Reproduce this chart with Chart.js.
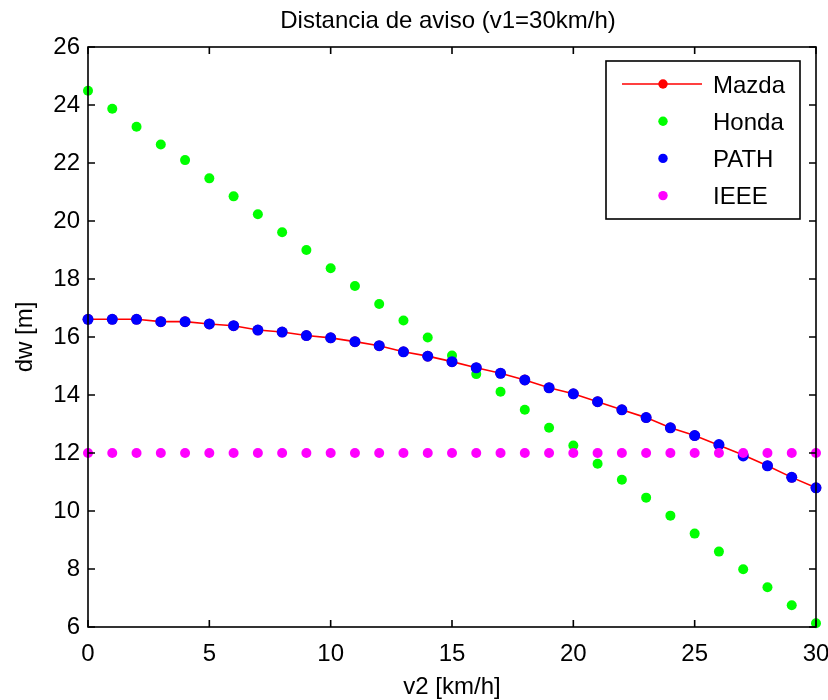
<!DOCTYPE html>
<html>
<head>
<meta charset="utf-8">
<script src="https://cdn.jsdelivr.net/npm/chart.js@4"></script>
<style>
  html, body { margin: 0; padding: 0; background: #fff; }
  #wrap { width: 828px; height: 700px; }
</style>
</head>
<body>
<div id="wrap"><canvas id="chart-aviso" width="828" height="700"></canvas></div>
<script>
// v2 [km/h]
const v2 = [0,1,2,3,4,5,6,7,8,9,10,11,12,13,14,15,16,17,18,19,20,21,22,23,24,25,26,27,28,29,30]

// dw [m]
const mazda = [16.61,16.61,16.61,16.53,16.53,16.45,16.39,16.24,16.17,16.05,15.97,15.84,15.70,15.49,15.34,15.15,14.94,14.75,14.52,14.25,14.04,13.77,13.49,13.22,12.87,12.60,12.27,11.93,11.56,11.16,10.80]
const honda = [24.49,23.87,23.25,22.64,22.10,21.47,20.85,20.23,19.61,19.00,18.37,17.76,17.14,16.57,15.98,15.36,14.72,14.11,13.49,12.87,12.26,11.63,11.08,10.46,9.84,9.22,8.60,7.99,7.37,6.75,6.13]
const path = [16.61,16.61,16.61,16.53,16.53,16.45,16.39,16.24,16.17,16.05,15.97,15.84,15.70,15.49,15.34,15.15,14.94,14.75,14.52,14.25,14.04,13.77,13.49,13.22,12.87,12.60,12.29,11.90,11.56,11.16,10.80]
const ieee = [12,12,12,12,12,12,12,12,12,12,12,12,12,12,12,12,12,12,12,12,12,12,12,12,12,12,12,12,12,12,12]

const xTicks = [0,5,10,15,20,25,30]
const yTicks = [6,8,10,12,14,16,18,20,22,24,26]

const FONT = "'Liberation Sans', Arial, sans-serif"
const pts = arr => arr.map((y, i) => ({ x: v2[i], y }))

// box, inward ticks, title and legend in MATLAB style
const matlabFrame = {
  id: "matlabFrame",
  afterDraw(chart) {
    const { ctx, chartArea: a, scales } = chart
    const xs = scales.x, ys = scales.y
    const L = 7
    ctx.save()
    ctx.strokeStyle = "#000"
    ctx.lineWidth = 1.6
    ctx.strokeRect(a.left, a.top, a.right - a.left, a.bottom - a.top)
    ctx.beginPath()
    xTicks.forEach(t => {
      const px = xs.getPixelForValue(t)
      ctx.moveTo(px, a.bottom); ctx.lineTo(px, a.bottom - L)
      ctx.moveTo(px, a.top); ctx.lineTo(px, a.top + L)
    })
    yTicks.forEach(t => {
      const py = ys.getPixelForValue(t)
      ctx.moveTo(a.left, py); ctx.lineTo(a.left + L, py)
      ctx.moveTo(a.right, py); ctx.lineTo(a.right - L, py)
    })
    ctx.stroke()

    // title
    ctx.fillStyle = "#000"
    ctx.font = "24px " + FONT
    ctx.textAlign = "center"
    ctx.textBaseline = "alphabetic"
    ctx.fillText("Distancia de aviso (v1=30km/h)", 448, 28)

    // legend
    const bx = 606, by = 61, bw = 194, bh = 158
    ctx.fillStyle = "#fff"
    ctx.fillRect(bx, by, bw, bh)
    ctx.lineWidth = 1.6
    ctx.strokeRect(bx, by, bw, bh)
    ctx.font = "24px " + FONT
    ctx.textAlign = "left"
    ctx.textBaseline = "middle"
    chart.data.datasets.forEach((ds, i) => {
      const cy = by + 23 + i * 37.2
      if (ds.showLine) {
        ctx.strokeStyle = ds.borderColor
        ctx.lineWidth = 1.5
        ctx.beginPath(); ctx.moveTo(622, cy); ctx.lineTo(702, cy); ctx.stroke()
      }
      ctx.fillStyle = ds.pointBackgroundColor
      ctx.beginPath(); ctx.arc(663, cy, 4.7, 0, Math.PI * 2); ctx.fill()
      ctx.fillStyle = "#000"
      ctx.fillText(ds.label, 713, cy + 2)
    })
    ctx.restore()
  }
}

new Chart(document.getElementById("chart-aviso"), {
  type: "scatter",
  data: {
    datasets: [
      { label: "Mazda", data: pts(mazda), showLine: true, borderColor: "#ff0000", borderWidth: 1.6,
        pointBackgroundColor: "#ff0000", pointBorderWidth: 0, pointRadius: 5.3, order: 4 },
      { label: "Honda", data: pts(honda), showLine: false, borderColor: "#00ff00",
        pointBackgroundColor: "#00ff00", pointBorderWidth: 0, pointRadius: 5, order: 3 },
      { label: "PATH", data: pts(path), showLine: false, borderColor: "#0000ff",
        pointBackgroundColor: "#0000ff", pointBorderWidth: 0, pointRadius: 5.5, order: 2 },
      { label: "IEEE", data: pts(ieee), showLine: false, borderColor: "#ff00ff",
        pointBackgroundColor: "#ff00ff", pointBorderWidth: 0, pointRadius: 5, order: 1 }
    ]
  },
  options: {
    responsive: false,
    animation: false,
    clip: false,
    layout: { padding: { top: 47, right: 12, left: 0, bottom: 0 } },
    plugins: { legend: { display: false }, tooltip: { enabled: false }, title: { display: false } },
    scales: {
      x: {
        type: "linear", min: 0, max: 30,
        grid: { display: false, drawTicks: false },
        border: { display: false },
        afterBuildTicks: s => { s.ticks = xTicks.map(v => ({ value: v })) },
        ticks: { color: "#000", font: { family: FONT, size: 24 }, padding: 13, maxRotation: 0 },
        title: { display: true, text: "v2 [km/h]", color: "#000", font: { family: FONT, size: 24 }, padding: { top: 0, bottom: -2 } },
        afterFit: s => { s.height = 73; s.paddingLeft = 0; s.paddingRight = 0 }
      },
      y: {
        type: "linear", min: 6, max: 26,
        grid: { display: false, drawTicks: false },
        border: { display: false },
        afterBuildTicks: s => { s.ticks = yTicks.map(v => ({ value: v })) },
        ticks: { color: "#000", font: { family: FONT, size: 24 }, padding: 8 },
        title: { display: true, text: "dw [m]", color: "#000", font: { family: FONT, size: 24 }, padding: { top: 11, bottom: 0 } },
        afterFit: s => { s.width = 88; s.paddingTop = 0; s.paddingBottom = 0 }
      }
    }
  },
  plugins: [matlabFrame]
})
</script>
</body>
</html>
